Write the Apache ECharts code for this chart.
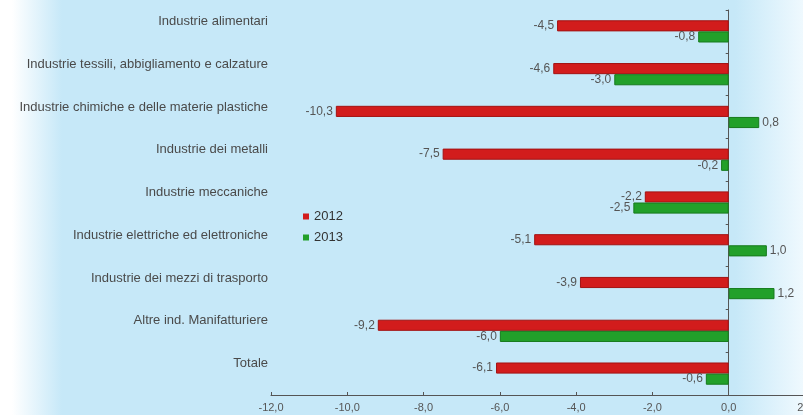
<!DOCTYPE html>
<html>
<head>
<meta charset="utf-8">
<script src="https://cdn.jsdelivr.net/npm/echarts@6/dist/echarts.min.js"></script>
<style>
  html, body { margin: 0; padding: 0; }
  body {
    width: 803px; height: 415px; overflow: hidden;
    background: linear-gradient(to right, #ffffff 0px, #ffffff 12px, #c6e8f8 62px, #c6e8f8 735px, #eff9fe 803px);
  }
  /* the plot runs a couple of pixels past the right edge, so the canvas is a bit wider */
  #chart { width: 810px; height: 415px; }
</style>
</head>
<body>
<div id="chart"></div>
<script>
const categories = [
  'Industrie alimentari',
  'Industrie tessili, abbigliamento e calzature',
  'Industrie chimiche e delle materie plastiche',
  'Industrie dei metalli',
  'Industrie meccaniche',
  'Industrie elettriche ed elettroniche',
  'Industrie dei mezzi di trasporto',
  'Altre ind. Manifatturiere',
  'Totale'
];
const values2012 = [-4.5, -4.6, -10.3, -7.5, -2.2, -5.1, -3.9, -9.2, -6.1];
const values2013 = [-0.8, -3.0, 0.8, -0.2, -2.5, 1.0, 1.2, -6.0, -0.6];
const seriesNames = ['2012', '2013'];

const fmt = v => v.toFixed(1).replace('.', ',');
const FONT = 'Liberation Sans, Arial, sans-serif';

// label sits at the bar's outer end: left for negatives, right for positives
const withLabels = arr => arr.map(v => ({
  value: v,
  label: { position: v < 0 ? 'left' : 'right' }
}));

const barSeries = (name, values, color, border) => ({
  name,
  type: 'bar',
  yAxisIndex: 0,
  data: withLabels(values),
  barGap: '0%',
  barCategoryGap: '48%',
  itemStyle: { color, borderColor: border, borderWidth: 1 },
  label: {
    show: true,
    distance: 3,
    formatter: p => fmt(p.value),
    color: '#555',
    fontSize: 12,
    fontFamily: FONT
  }
});

const chart = echarts.init(document.getElementById('chart'));
chart.setOption({
  animation: false,
  backgroundColor: 'transparent',
  grid: { left: 271, right: 5, top: 10, bottom: 20, containLabel: false, outerBoundsMode: 'none' },
  legend: {
    data: seriesNames,
    orient: 'vertical',
    left: 298,
    top: 205,
    icon: 'rect',
    itemWidth: 6,
    itemHeight: 6,
    itemGap: 8,
    itemStyle: { borderWidth: 0 },
    textStyle: { color: '#333', fontSize: 13, fontFamily: FONT }
  },
  xAxis: {
    type: 'value',
    min: -12,
    max: 2,
    interval: 2,
    axisLine: { show: true, lineStyle: { color: '#555', width: 1 } },
    axisTick: { show: true, inside: true, length: 3, lineStyle: { color: '#555' } },
    splitLine: { show: false },
    axisLabel: {
      formatter: v => fmt(v),
      color: '#555',
      fontSize: 11,
      fontFamily: FONT,
      margin: 7
    }
  },
  yAxis: [
    {
      type: 'category',
      data: categories,
      inverse: true,
      position: 'left',
      axisLine: { show: false, onZero: false },
      axisTick: { show: false },
      axisLabel: {
        color: '#4a4a4a',
        fontSize: 13,
        fontFamily: FONT,
        margin: 3,
        verticalAlign: 'bottom',
        lineHeight: 20
      }
    },
    {
      type: 'category',
      data: categories,
      inverse: true,
      position: 'left',
      axisLine: { show: true, onZero: true, onZeroAxisIndex: 0, lineStyle: { color: '#555', width: 1 } },
      axisTick: { show: true, length: 3, lineStyle: { color: '#555' } },
      axisLabel: { show: false }
    }
  ],
  series: [
    barSeries(seriesNames[0], values2012, '#d21c1c', '#a31212'),
    barSeries(seriesNames[1], values2013, '#22a02a', '#167a1c')
  ]
});
</script>
</body>
</html>
